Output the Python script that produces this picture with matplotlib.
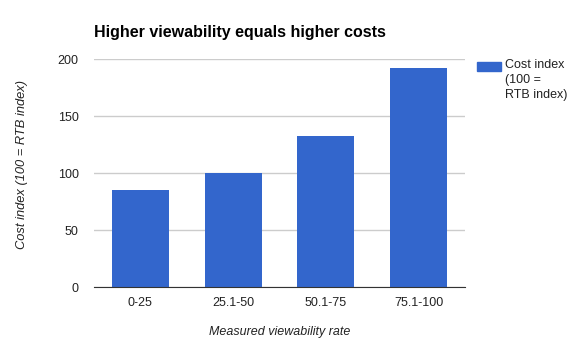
import matplotlib
matplotlib.use("Agg")
import matplotlib.pyplot as plt
import matplotlib.patches as mpatches

categories = ["0-25", "25.1-50", "50.1-75", "75.1-100"]
values = [85.5, 100, 133, 192]
yticks = [0, 50, 100, 150, 200]

plt.rcParams['font.family'] = ['Liberation Sans', 'DejaVu Sans']

fig = plt.figure(figsize=(5.72, 3.49), dpi=100)
ax = fig.add_axes([94/572, 1-287.3/349, (465-94)/572, (287.3-59.3)/349])

x = list(range(len(categories)))
ax.bar(x, values, width=0.615, color="#3366cc", zorder=3)
ax.set_xlim(-0.5, len(categories)-0.5)
ax.set_ylim(0, 200)
ax.set_yticks(yticks)
ax.set_yticklabels([str(v) for v in yticks])
ax.set_xticks(x)
ax.set_xticklabels(categories)
ax.grid(axis='y', color="#cccccc", linewidth=1, zorder=0)
for s in ['top', 'right', 'left']:
    ax.spines[s].set_visible(False)
ax.spines['bottom'].set_color("#333333")
ax.spines['bottom'].set_zorder(4)
ax.tick_params(axis='both', length=0, labelsize=9, colors="#222222")
ax.tick_params(axis='y', pad=11)
ax.tick_params(axis='x', pad=7)

fig.text(280/572, 1-332.5/349, "Measured viewability rate", fontstyle='italic', fontsize=9,
         color="#222222", ha='center', va='center')
fig.text(22/572, 1-165/349, "Cost index (100 = RTB index)", fontstyle='italic', fontsize=9.3,
         color="#222222", ha='center', va='center', rotation=90)

fig.text(94/572, 1-32/349, "Higher viewability equals higher costs", fontsize=11.5,
         fontweight='bold', color="#000000", va='center', ha='left')

fig.patches.append(mpatches.Rectangle((477/572, 1-70.7/349), 24/572, 9/349,
                                      transform=fig.transFigure, color="#3366cc", figure=fig))
fig.text(505/572, 1-80/349, "Cost index\n(100 =\nRTB index)", fontsize=9, color="#222222",
         va='center', ha='left', linespacing=1.3)

fig.savefig("out.png", dpi=100)
